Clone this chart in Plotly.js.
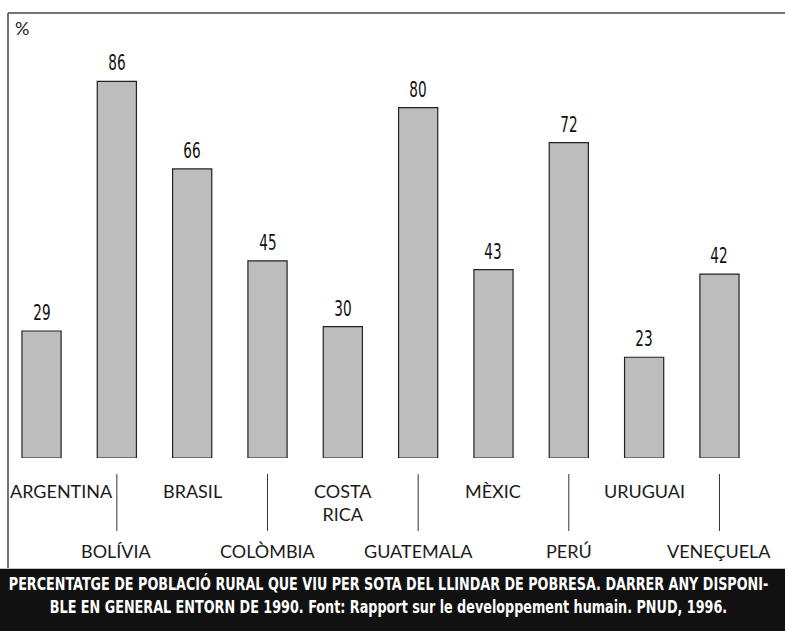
<!DOCTYPE html>
<html>
<head>
<meta charset="utf-8">
<script src="https://cdn.plot.ly/plotly-3.0.1.min.js"></script>
<style>html,body{margin:0;padding:0;background:#fff;}#chart{width:785px;height:631px;}</style>
</head>
<body>
<div id="chart"></div>
<script>
// Data
const countries = ["ARGENTINA","BOLÍVIA","BRASIL","COLÒMBIA","COSTA RICA","GUATEMALA","MÈXIC","PERÚ","URUGUAI","VENEÇUELA"];
const tickLabels = ["ARGENTINA","BOLÍVIA","BRASIL","COLÒMBIA","COSTA<br>RICA","GUATEMALA","MÈXIC","PERÚ","URUGUAI","VENEÇUELA"];
const ruralPoverty = [29, 86, 66, 45, 30, 80, 43, 72, 23, 42];
const unitLabel = "%";
const footerLines = [
  "PERCENTATGE DE POBLACIÓ RURAL QUE VIU PER SOTA DEL LLINDAR DE POBRESA. DARRER ANY DISPONI-",
  "BLE EN GENERAL ENTORN DE 1990. Font: Rapport sur le developpement humain. PNUD, 1996."
];

const labelFont = {family: "Lato, 'Noto Sans', sans-serif", size: 18, color: "#1a1a1a"};
const valueFont = {family: "'DejaVu Sans Condensed', 'DejaVu Sans', sans-serif", size: 21, color: "#111"};
const footFont = {family: "'DejaVu Sans Condensed', 'DejaVu Sans', sans-serif", size: 18, color: "#fff", weight: 700};

const annotations = [];
const shapes = [];

// value labels
countries.forEach((c, i) => {
  annotations.push({x: c, y: ruralPoverty[i], xref: "x", yref: "y", text: String(ruralPoverty[i]),
    showarrow: false, yanchor: "bottom", yshift: 4, font: valueFont});
});

// category labels: even index upper row, odd index lower row with tick line
countries.forEach((c, i) => {
  const upper = i % 2 === 0;
  annotations.push({x: c, xref: "x", yref: "paper", y: upper ? -0.045 : -0.18,
    yanchor: "top", text: tickLabels[i], showarrow: false, font: labelFont,
    xshift: i === 0 ? 20 : 0, align: "center"});
  if (!upper) {
    shapes.push({type: "line", xref: "x", yref: "paper", x0: c, x1: c, y0: -0.036, y1: -0.164,
      line: {color: "#333", width: 1}});
  }
});

// unit label
annotations.push({xref: "paper", yref: "paper", x: 0.006, y: 0.995, xanchor: "left", yanchor: "top",
  text: unitLabel, showarrow: false, font: {family: "Lato, sans-serif", size: 18, color: "#222"}});

// frame lines
shapes.push({type: "line", xref: "paper", yref: "paper", x0: 0, x1: 1.01, y0: 1, y1: 1, line: {color: "#444", width: 1.5}});
shapes.push({type: "line", xref: "paper", yref: "paper", x0: 0, x1: 0, y0: 1, y1: -0.247, line: {color: "#444", width: 1.5}});

// footer
shapes.push({type: "rect", xref: "paper", yref: "paper", x0: -0.02, x1: 1.01, y0: -0.249, y1: -0.4,
  fillcolor: "#111", line: {width: 0}, layer: "above"});
annotations.push({xref: "paper", yref: "paper", x: 0.49, y: -0.281, yanchor: "middle", text: footerLines[0],
  showarrow: false, font: footFont});
annotations.push({xref: "paper", yref: "paper", x: 0.49, y: -0.333, yanchor: "middle", text: footerLines[1],
  showarrow: false, font: footFont});

const trace = {
  type: "bar",
  x: countries,
  y: ruralPoverty,
  width: 0.52,
  marker: {color: "#bdbdbd", line: {color: "#222", width: 1.2}},
  hoverinfo: "x+y"
};

const layout = {
  width: 785, height: 631,
  margin: {l: 8, r: 0, t: 13, b: 173, pad: 0},
  paper_bgcolor: "#fff", plot_bgcolor: "#fff",
  showlegend: false,
  xaxis: {type: "category", range: [-0.445, 9.87], showticklabels: false, ticks: "", showgrid: false, zeroline: false, showline: false},
  yaxis: {range: [0, 101.6], showticklabels: false, ticks: "", showgrid: false, zeroline: false, showline: false},
  annotations: annotations,
  shapes: shapes
};

function condense(textEl, sx) {
  textEl.style.transformBox = "fill-box";
  textEl.style.transformOrigin = "center";
  textEl.style.transform = "scaleX(" + sx + ")";
}

Plotly.newPlot("chart", [trace], layout, {displayModeBar: false, staticPlot: true}).then(gd => {
  const groups = gd.querySelectorAll(".annotation");
  const n = countries.length;
  // value labels: condensed look
  for (let i = 0; i < n; i++) {
    const t = groups[i] && groups[i].querySelector("text");
    if (t) condense(t, 0.72);
  }
  // footer lines: fit the first line to the band width, same factor for the second
  const f1 = groups[groups.length - 2].querySelector("text");
  const f2 = groups[groups.length - 1].querySelector("text");
  const w = f1.getBBox().width;
  const sx = Math.min(1, 760 / w);
  condense(f1, sx);
  condense(f2, sx);
});
</script>
</body>
</html>
